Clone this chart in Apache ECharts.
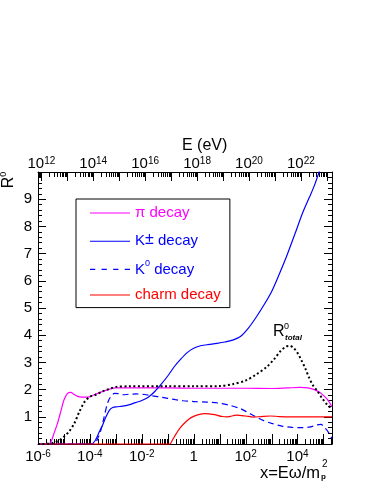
<!DOCTYPE html>
<html>
<head>
<meta charset="utf-8">
<script src="https://cdn.jsdelivr.net/npm/echarts@6/dist/echarts.min.js"></script>
<style>
  html, body { margin: 0; padding: 0; background: #fff; }
  #chart { width: 374px; height: 484px; }
</style>
</head>
<body>
<div id="chart"></div>
<script>
// x axis is stored as log10(x), x = E*omega/m_p^2
var piLogX = [-6.0, -5.62, -5.5, -5.38, -5.25, -5.12, -5.0, -4.86, -4.74, -4.62, -4.5, -4.3, -4.1, -3.85, -3.6, -3.3, -3.0, -2.0, -1.0, 0.0, 1.0, 2.0, 3.0, 3.6, 4.1, 4.4, 4.65, 4.85, 5.05, 5.2, 5.33]
var piR = [0, 0, 0.08, 0.4, 0.76, 1.2, 1.62, 1.86, 1.9, 1.83, 1.76, 1.72, 1.72, 1.8, 1.9, 2.0, 2.06, 2.06, 2.06, 2.05, 2.05, 2.05, 2.04, 2.06, 2.08, 2.06, 2.0, 1.9, 1.74, 1.58, 1.37]

var kpLogX = [-6.0, -3.95, -3.8, -3.65, -3.5, -3.38, -3.25, -3.12, -2.95, -2.75, -2.5, -2.25, -2.0, -1.75, -1.5, -1.25, -1.0, -0.75, -0.5, -0.25, 0.0, 0.3, 0.6, 0.9, 1.2, 1.5, 1.8, 2.1, 2.4, 2.7, 3.0, 3.3, 3.6, 3.9, 4.2, 4.45, 4.65, 4.85]
var kpR = [0, 0, 0.12, 0.42, 0.72, 1.0, 1.24, 1.34, 1.37, 1.39, 1.44, 1.52, 1.6, 1.72, 1.93, 2.2, 2.5, 2.84, 3.12, 3.36, 3.52, 3.62, 3.66, 3.7, 3.75, 3.82, 3.95, 4.25, 4.65, 5.1, 5.6, 6.25, 6.95, 7.72, 8.5, 9.05, 9.5, 10.05]

var k0LogX = [-6.0, -3.85, -3.7, -3.58, -3.45, -3.32, -3.2, -3.05, -2.9, -2.7, -2.5, -2.2, -1.9, -1.6, -1.3, -1.0, -0.7, -0.4, 0.0, 0.5, 1.0, 1.4, 1.8, 2.1, 2.4, 2.7, 3.0, 3.4, 3.8, 4.2, 4.5, 4.75, 4.9, 5.05, 5.2, 5.33]
var k0R = [0, 0, 0.2, 0.5, 1.0, 1.5, 1.74, 1.86, 1.85, 1.81, 1.83, 1.84, 1.82, 1.77, 1.73, 1.68, 1.63, 1.59, 1.56, 1.54, 1.5, 1.42, 1.3, 1.15, 1.0, 0.86, 0.76, 0.66, 0.61, 0.6, 0.63, 0.7, 0.72, 0.6, 0.42, 0.2]

var chLogX = [-6.0, -0.93, -0.8, -0.66, -0.5, -0.3, -0.1, 0.15, 0.45, 0.8, 1.1, 1.3, 1.65, 2.0, 2.3, 2.6, 2.95, 3.3, 3.8, 4.3, 4.8, 5.33]
var chR = [0, 0, 0.18, 0.4, 0.62, 0.82, 0.97, 1.07, 1.12, 1.08, 1.01, 1.0, 1.06, 1.03, 0.99, 1.01, 1.03, 1.01, 1.0, 1.0, 1.0, 1.0]

var totLogX = [-6.0, -5.6, -5.4, -5.2, -5.0, -4.8, -4.6, -4.4, -4.2, -4.0, -3.8, -3.5, -3.2, -3.0, -2.5, -1.0, 0.0, 1.0, 1.5, 2.0, 2.4, 2.8, 3.1, 3.35, 3.55, 3.7, 3.85, 4.0, 4.15, 4.3, 4.45, 4.6, 4.75, 4.95, 5.15, 5.33]
var totR = [0, 0.01, 0.05, 0.12, 0.27, 0.46, 0.76, 1.2, 1.56, 1.74, 1.8, 1.94, 2.04, 2.1, 2.12, 2.12, 2.12, 2.13, 2.2, 2.33, 2.55, 2.82, 3.12, 3.42, 3.58, 3.61, 3.53, 3.35, 3.08, 2.78, 2.43, 2.15, 1.97, 1.68, 1.44, 1.31]

var legendNames = ['π decay', 'K± decay', 'K0 decay', 'charm decay']

var xMin = -6, xMax = 5.33
var eShift = 17.87 // log10(E / eV) at x = 1
var FONT = 'Liberation Sans, Arial, sans-serif'
var SOLID_ICON = 'path://M0,0h40v1h-40z'
var DASH_ICON = 'path://M0,0h5v1h-5zM11,0h5v1h-5zM22,0h5v1h-5zM33,0h5v1h-5z'

function pairs (xs, ys) {
  return xs.map(function (x, i) { return [x, ys[i]] })
}

// log ticks (1..9 per decade) for bottom (x) and top (E) axes
var tickData = []
for (var n = -7; n <= 6; n++) {
  for (var k = 1; k <= 9; k++) {
    var v = n + Math.log10(k)
    if (v >= xMin && v <= xMax) tickData.push([v, k === 1 ? 10 : 5, 0])
  }
}
for (var m = 11; m <= 24; m++) {
  for (var j = 1; j <= 9; j++) {
    var w = m + Math.log10(j) - eShift
    if (w >= xMin && w <= xMax) tickData.push([w, j === 1 ? 9 : 5, 1])
  }
}

var powRich = {
  b: { fontSize: 15, fontFamily: FONT, color: '#000', lineHeight: 16 },
  s: { fontSize: 10, fontFamily: FONT, color: '#000', lineHeight: 10, verticalAlign: 'top' }
}

function powLabel (v) {
  if (Math.abs(v - Math.round(v)) > 1e-6) return ''
  var r = Math.round(v)
  if (r % 2 !== 0) return ''
  if (r === 0) return '{b|1}'
  return '{b|10}{s|' + r + '}'
}

var myChart = echarts.init(document.getElementById('chart'))

myChart.setOption({
  animation: false,
  backgroundColor: '#fff',
  grid: { left: 38, top: 172, width: 294, height: 272 },
  legend: {
    orient: 'vertical',
    left: 76,
    top: 199,
    padding: [6.5, 9, 5, 14],
    itemGap: 10.7,
    itemWidth: 40,
    itemHeight: 1.2,
    borderColor: '#000',
    borderWidth: 1,
    data: [
      { name: legendNames[0], icon: SOLID_ICON },
      { name: legendNames[1], icon: SOLID_ICON },
      { name: legendNames[2], icon: DASH_ICON },
      { name: legendNames[3], icon: SOLID_ICON }
    ],
    formatter: function (name) {
      if (name === 'π decay') return '{pi|π decay}'
      if (name === 'K± decay') return '{kp|K}{kps|±}{kp| decay}'
      if (name === 'K0 decay') return '{kp|K}{k0s|0}{kp| decay}'
      return '{ch|charm decay}'
    },
    textStyle: {
      fontFamily: FONT,
      fontSize: 15,
      rich: {
        pi: { color: '#ff00ff', fontSize: 15, fontFamily: FONT, lineHeight: 20 },
        kp: { color: '#0000ff', fontSize: 15, fontFamily: FONT, lineHeight: 20 },
        kps: { color: '#0000ff', fontSize: 16, fontFamily: FONT, lineHeight: 14, verticalAlign: 'top' },
        k0s: { color: '#0000ff', fontSize: 9, fontFamily: FONT, lineHeight: 12, verticalAlign: 'top' },
        ch: { color: '#ff0000', fontSize: 15, fontFamily: FONT, lineHeight: 20 }
      }
    }
  },
  xAxis: [
    {
      type: 'value', position: 'bottom', min: xMin, max: xMax, interval: 1,
      axisLine: { onZero: false, lineStyle: { color: '#000', width: 1 } },
      axisTick: { show: false },
      splitLine: { show: false },
      axisLabel: { margin: 5, formatter: powLabel, rich: powRich }
    },
    {
      type: 'value', position: 'top', min: xMin + eShift, max: xMax + eShift,
      axisLine: { onZero: false, lineStyle: { color: '#000', width: 1 } },
      axisTick: { show: false },
      splitLine: { show: false },
      axisLabel: { margin: 0, formatter: powLabel, rich: powRich }
    }
  ],
  yAxis: [
    {
      type: 'value', position: 'left', min: 0, max: 10, interval: 1,
      axisLine: { show: true, onZero: false, lineStyle: { color: '#000', width: 1 } },
      axisTick: { inside: true, length: 8, lineStyle: { color: '#000' } },
      minorTick: { show: true, splitNumber: 5, length: 4, lineStyle: { color: '#000' } },
      splitLine: { show: false },
      axisLabel: {
        margin: 6, fontSize: 15, fontFamily: FONT, color: '#000',
        formatter: function (v) { return (v === 0 || v === 10) ? '' : String(v) }
      }
    },
    {
      type: 'value', position: 'right', min: 0, max: 10, interval: 1,
      axisLine: { show: true, onZero: false, lineStyle: { color: '#000', width: 1 } },
      axisTick: { inside: true, length: 8, lineStyle: { color: '#000' } },
      minorTick: { show: true, splitNumber: 5, length: 4, lineStyle: { color: '#000' } },
      splitLine: { show: false },
      axisLabel: { show: false }
    }
  ],
  series: [
    {
      name: 'π decay', type: 'line', symbol: 'none', smooth: 0.3,
      data: pairs(piLogX, piR),
      lineStyle: { color: '#ff00ff', width: 1.2 }, itemStyle: { color: '#ff00ff' }
    },
    {
      name: 'K± decay', type: 'line', symbol: 'none', smooth: 0.3,
      data: pairs(kpLogX, kpR),
      lineStyle: { color: '#0000ff', width: 1.2 }, itemStyle: { color: '#0000ff' }
    },
    {
      name: 'K0 decay', type: 'line', symbol: 'none', smooth: 0.3,
      data: pairs(k0LogX, k0R),
      lineStyle: { color: '#0000ff', width: 1.2, type: [6, 4] }, itemStyle: { color: '#0000ff' }
    },
    {
      name: 'charm decay', type: 'line', symbol: 'none', smooth: 0.3, clip: false,
      data: pairs(chLogX, chR),
      lineStyle: { color: '#ff0000', width: 1.2 }, itemStyle: { color: '#ff0000' }
    },
    {
      name: 'total', type: 'line', symbol: 'none', smooth: 0.3,
      data: pairs(totLogX, totR),
      lineStyle: { color: '#000', width: 2, type: [2, 2.5] }, itemStyle: { color: '#000' }
    },
    {
      name: 'ticks', type: 'custom', silent: true,
      data: tickData,
      renderItem: function (params, api) {
        var side = api.value(2)
        var len = api.value(1)
        var p = api.coord([api.value(0), side ? 10 : 0])
        var x = Math.round(p[0]) + 0.5
        return {
          type: 'line',
          shape: { x1: x, y1: p[1], x2: x, y2: side ? p[1] + len : p[1] - len },
          style: { stroke: '#000', lineWidth: 1 }
        }
      }
    }
  ],
  graphic: [
    {
      type: 'text', left: 182, top: 138,
      style: { text: 'E (eV)', font: '16px ' + FONT, fill: '#000' }
    },
    {
      type: 'text', x: 9, y: 180, rotation: Math.PI / 2,
      style: {
        text: '{r|R}{s|0}', align: 'center', verticalAlign: 'middle',
        rich: {
          r: { fontSize: 16, fontFamily: FONT, fill: '#000', lineHeight: 20 },
          s: { fontSize: 9, fontFamily: FONT, fill: '#000', lineHeight: 12, verticalAlign: 'top' }
        }
      }
    },
    {
      type: 'text', x: 320, y: 473,
      style: { text: 'x=Eω/m', font: '16.5px ' + FONT, fill: '#000', align: 'right', verticalAlign: 'middle' }
    },
    {
      type: 'text', x: 321, y: 477,
      style: { text: 'p', font: 'bold 8px ' + FONT, fill: '#000', verticalAlign: 'middle' }
    },
    {
      type: 'text', x: 322, y: 464,
      style: { text: '2', font: '10px ' + FONT, fill: '#000', verticalAlign: 'middle' }
    },
    {
      type: 'text', x: 273, y: 332,
      style: { text: 'R', font: '16px ' + FONT, fill: '#000', verticalAlign: 'middle' }
    },
    {
      type: 'text', x: 284, y: 327,
      style: { text: '0', font: '9px ' + FONT, fill: '#000', verticalAlign: 'middle' }
    },
    {
      type: 'text', x: 285, y: 338,
      style: { text: 'total', font: 'italic bold 8px ' + FONT, fill: '#000', verticalAlign: 'middle' }
    }
  ]
})
</script>
</body>
</html>
